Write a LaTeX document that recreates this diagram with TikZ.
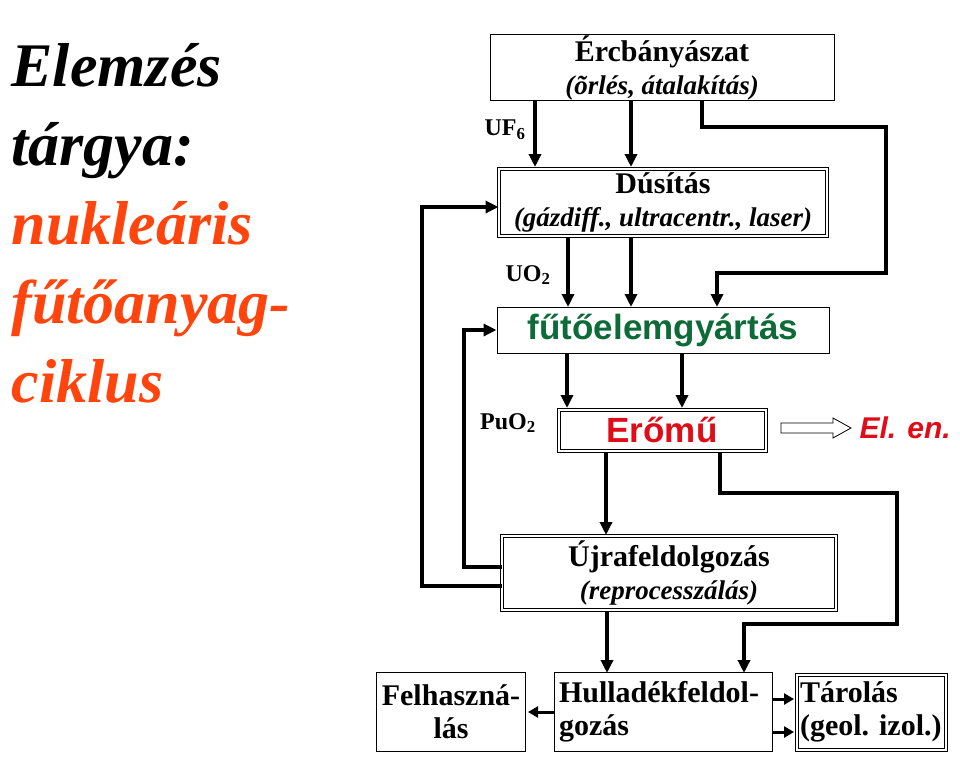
\documentclass[tikz,border=0pt]{standalone}
\usepackage{fontspec}
\setmainfont{Liberation Serif}
\setsansfont{Liberation Sans}
\usetikzlibrary{arrows.meta}
\definecolor{dgreen}{rgb}{0.05,0.42,0.22}
\definecolor{tred}{rgb}{1,0.27,0.05}
\definecolor{ered}{rgb}{0.88,0.05,0.1}
\newcommand{\sub}[1]{{\fontsize{27}{28}\selectfont\itshape #1}}

\begin{document}
\begin{tikzpicture}[x=1pt,y=-1pt,
  box/.style={draw,line width=1pt,fill=white,inner sep=0pt,font=\fontsize{30}{33}\selectfont\bfseries,align=center},
  dbox/.style={box,double,double distance=2pt,line width=1pt},
  flow/.style={line width=3.5pt,-{Triangle[length=13pt,width=12pt]}},
  lbl/.style={font=\fontsize{24}{24}\selectfont\bfseries}]
\useasboundingbox (0,0) rectangle (960,757);
% title
\node[anchor=north west,align=left,font=\fontsize{62}{79}\selectfont\bfseries\itshape] (title) at (8,40)
  {Elemzés\\tárgya:\\\textcolor{tred}{nukleáris}\\\textcolor{tred}{fűtőanyag-}\\\textcolor{tred}{ciklus}};
% boxes
\node[box,minimum width=344,minimum height=66] (erc) at (662,68) {Ércbányászat\\\sub{(õrlés, átalakítás)}};
\node[dbox,minimum width=328,minimum height=67] (dus) at (663,202) {Dúsítás\\\sub{(gázdiff., ultracentr., laser)}};
\node[box,minimum width=332,minimum height=46,font=\fontsize{35}{35}\selectfont\sffamily\bfseries,text=dgreen] (fut) at (663,330) {fűtőelemgyártás};
\node[dbox,minimum width=207,minimum height=41,font=\fontsize{35}{35}\selectfont\sffamily\bfseries,text=ered] (ero) at (662,430) {Erőmű};
\node[dbox,minimum width=334,minimum height=74] (ujra) at (669,573) {Újrafeldolgozás\\\sub{(reprocesszálás)}};
\node[box,minimum width=218,minimum height=79,align=left,text width=208] (hull) at (663,712) {Hulladékfeldol-\\gozás};
\node[box,minimum width=149,minimum height=79] (felh) at (451,712) {Felhaszná-\\lás};
\node[dbox,minimum width=149,minimum height=75,align=left,text width=142] (tar) at (871,712) {Tárolás\\(geol.~izol.)};
% labels
\node[lbl] (uf) at (505,130) {UF\textsubscript{6}};
\node[lbl] (uo) at (528,275) {UO\textsubscript{2}};
\node[lbl] (puo) at (508,423) {PuO\textsubscript{2}};
\node[font=\fontsize{30}{30}\selectfont\sffamily\bfseries\itshape,text=ered,anchor=west] (elen) at (856,428) {El. en.};
% arrows
\draw[flow] (535,101) -- (535,167);
\draw[flow] (631,101) -- (631,167);
\draw[flow] (702,101) -- (702,127) -- (886,127) -- (886,273) -- (717,273) -- (717,307);
\draw[flow] (568,238) -- (568,307);
\draw[flow] (631,238) -- (631,307);
\draw[flow] (567,353) -- (567,408);
\draw[flow] (682,353) -- (682,408);
\draw[flow] (606,452) -- (606,535);
\draw[flow] (720,452) -- (720,493) -- (897,493) -- (897,624) -- (744,624) -- (744,673);
\draw[flow] (607,612) -- (607,673);
\draw[flow] (ujra.west |- 0,567) -- (464,567) -- (464,330) -- (fut.west);
\draw[flow] (ujra.west |- 0,586) -- (422,586) -- (422,207) -- (dus.west |- 0,207);
\draw[line width=3pt,-{Triangle[length=10pt,width=11pt]}] (hull.west |- 0,712) -- (528,712);
\draw[line width=3pt,-{Triangle[length=10pt,width=11pt]}] (hull.east |- 0,699) -- (794,699);
\draw[line width=3pt,-{Triangle[length=10pt,width=11pt]}] (hull.east |- 0,732) -- (794,732);
\draw[line width=0.8pt] (781,423) -- (833,423) -- (833,418) -- (851,428) -- (833,438) -- (833,433) -- (781,433) -- cycle;
\end{tikzpicture}
\end{document}
